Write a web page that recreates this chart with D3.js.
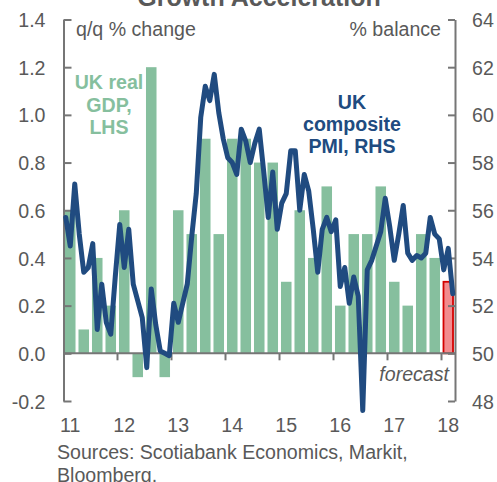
<!DOCTYPE html>
<html>
<head>
<meta charset="utf-8">
<script src="https://cdn.jsdelivr.net/npm/d3@7"></script>
<style>
  html, body { margin: 0; padding: 0; background: #fff; }
  svg { display: block; }
  text { font-family: Arial, "Liberation Sans", sans-serif; }
</style>
</head>
<body>
<svg id="chart" width="497" height="482"></svg>
<script>
// ---- data ----
const quarters = [
  "2011Q1","2011Q2","2011Q3","2011Q4",
  "2012Q1","2012Q2","2012Q3","2012Q4",
  "2013Q1","2013Q2","2013Q3","2013Q4",
  "2014Q1","2014Q2","2014Q3","2014Q4",
  "2015Q1","2015Q2","2015Q3","2015Q4",
  "2016Q1","2016Q2","2016Q3","2016Q4",
  "2017Q1","2017Q2","2017Q3","2017Q4",
  "2018Q1"
];
const gdp = [
  0.6, 0.1, 0.4, 0.2,
  0.6, -0.1, 1.2, -0.1,
  0.6, 0.5, 0.9, 0.5,
  0.9, 0.9, 0.8, 0.8,
  0.3, 0.6, 0.4, 0.7,
  0.2, 0.5, 0.5, 0.7,
  0.3, 0.2, 0.5, 0.4,
  0.3
];
const forecastFlags = [
  0,0,0,0, 0,0,0,0, 0,0,0,0, 0,0,0,0, 0,0,0,0, 0,0,0,0, 0,0,0,0, 1
];
// monthly composite PMI, Jan 2011 .. Mar 2018
const pmi = [
  55.7, 54.5, 57.1, 55.0, 53.4, 53.6, 54.6, 51.0, 52.9, 51.3, 50.8, 53.2,
  55.4, 53.6, 55.2, 52.9, 52.2, 51.5, 49.4, 52.7, 51.2, 50.1, 50.0, 49.9,
  52.1, 51.3, 52.1, 52.9, 54.9, 56.7, 59.9, 61.2, 60.6, 61.7, 60.1, 59.0,
  58.2, 58.0, 57.5, 59.4, 58.9, 58.0, 58.8, 59.4, 57.6, 55.7, 57.6, 55.2,
  56.3, 56.7, 58.5, 58.5, 56.0, 57.5, 56.8, 55.2, 53.4, 55.2, 55.7, 55.1,
  55.6, 52.8, 53.6, 52.1, 53.2, 52.4, 47.6, 53.5, 53.9, 54.5, 55.1, 56.5,
  55.3, 53.9, 55.0, 56.2, 54.2, 53.9, 54.1, 54.0, 54.2, 55.7, 55.0, 54.8,
  53.5, 54.4, 52.5
];
const leftTicks = [-0.2, 0.0, 0.2, 0.4, 0.6, 0.8, 1.0, 1.2, 1.4];
const rightTicks = [48, 50, 52, 54, 56, 58, 60, 62, 64];
const yearLabels = ["11","12","13","14","15","16","17","18"];

// ---- layout ----
const svg = d3.select("#chart");
const L = 63.5, R = 455, T = 19.5, B = 401;
const textCol = "#595959", axisCol = "#767676";
const fontSize = 19.6;
const fmt1 = d => d3.format(".1f")(d).replace("\u2212", "-");

const x = d3.scaleBand().domain(quarters).range([L, R]).paddingInner(0.22).paddingOuter(0.11);
const step = x.step();
const xm = d3.scaleLinear().domain([0, quarters.length * 3]).range([L, R]);
const yL = d3.scaleLinear().domain([-0.2, 1.4]).range([B, T]);
const yR = d3.scaleLinear().domain([48, 64]).range([B, T]);

// bars
svg.append("g").selectAll("rect")
  .data(quarters.map((q, i) => ({q, v: gdp[i], f: forecastFlags[i]})))
  .join("rect")
  .attr("x", d => x(d.q) + (d.f ? 0.5 : 0))
  .attr("width", d => x.bandwidth() - (d.f ? 1 : 0))
  .attr("y", d => yL(Math.max(0, d.v)))
  .attr("height", d => Math.abs(yL(d.v) - yL(0)))
  .attr("fill", d => d.f ? "#f28b8e" : "#86bf9e")
  .attr("stroke", d => d.f ? "#d40000" : "none")
  .attr("stroke-width", d => d.f ? 1.8 : 0);

// left axis
const gl = svg.append("g").attr("transform", `translate(${L},0)`)
  .call(d3.axisLeft(yL).tickValues(leftTicks).tickFormat(fmt1)
    .tickSizeInner(-8).tickSizeOuter(0).tickPadding(18));
// right axis
const gr = svg.append("g").attr("transform", `translate(${R},0)`)
  .call(d3.axisRight(yR).tickValues(rightTicks).tickFormat(d3.format("d"))
    .tickSizeInner(-7).tickSizeOuter(0).tickPadding(17));
[gl, gr].forEach(g => {
  g.select(".domain").attr("stroke", axisCol).attr("stroke-width", 2);
  g.selectAll(".tick line").attr("stroke", axisCol).attr("stroke-width", 2);
  g.selectAll(".tick text").attr("fill", textCol).attr("font-size", fontSize)
    .attr("font-family", "Arial, 'Liberation Sans', sans-serif").attr("dy", "0.36em");
});

// x axis line at zero, with year-boundary ticks
const yearStarts = quarters.filter(q => q.endsWith("Q1")).slice(1);
const gx = svg.append("g").attr("transform", `translate(0,${yL(0)})`)
  .call(d3.axisBottom(x).tickValues(yearStarts).tickFormat("").tickSizeInner(7).tickSizeOuter(0)
    .offset(0));
gx.select(".domain").attr("stroke", axisCol).attr("stroke-width", 2);
gx.selectAll(".tick").attr("transform", d => `translate(${x(d) - x.paddingInner() * step / 2},0)`);
gx.selectAll(".tick line").attr("stroke", axisCol).attr("stroke-width", 2);

// year labels below plot
const q1s = quarters.filter(q => q.endsWith("Q1"));
const gxl = svg.append("g").attr("transform", `translate(0,${B})`)
  .call(d3.axisBottom(x).tickValues(q1s).tickFormat((d, i) => yearLabels[i]).tickSize(0).tickPadding(17));
gxl.select(".domain").remove();
gxl.selectAll(".tick text").attr("fill", textCol).attr("font-size", fontSize)
  .attr("font-family", "Arial, 'Liberation Sans', sans-serif");

// PMI line
const line = d3.line().x((d, i) => xm(i + 0.5)).y(d => yR(d));
svg.append("path").datum(pmi)
  .attr("d", line)
  .attr("fill", "none")
  .attr("stroke", "#204b80")
  .attr("stroke-width", 5)
  .attr("stroke-linejoin", "round")
  .attr("stroke-linecap", "round");

// texts
svg.append("text").attr("x", 259).attr("y", 6).attr("text-anchor", "middle")
  .attr("font-size", 25).attr("font-weight", "bold").attr("fill", textCol)
  .text("Growth Acceleration");
svg.append("text").attr("x", 76).attr("y", 36).attr("font-size", fontSize).attr("fill", textCol)
  .text("q/q % change");
svg.append("text").attr("x", 441).attr("y", 36).attr("text-anchor", "end").attr("font-size", fontSize).attr("fill", textCol)
  .text("% balance");

const gdpLab = svg.append("text").attr("text-anchor", "middle").attr("font-size", fontSize)
  .attr("font-weight", "bold").attr("fill", "#86bf9e");
["UK real", "GDP,", "LHS"].forEach((t, i) =>
  gdpLab.append("tspan").attr("x", 109).attr("y", 89 + i * 22.5).text(t));

const pmiLab = svg.append("text").attr("text-anchor", "middle").attr("font-size", fontSize)
  .attr("font-weight", "bold").attr("fill", "#204b80");
["UK", "composite", "PMI, RHS"].forEach((t, i) =>
  pmiLab.append("tspan").attr("x", 352).attr("y", 109 + i * 22).text(t));

svg.append("text").attr("x", 449).attr("y", 381).attr("text-anchor", "end")
  .attr("font-size", fontSize).attr("font-style", "italic").attr("fill", textCol)
  .text("forecast");

const src = svg.append("text").attr("font-size", fontSize).attr("fill", textCol);
["Sources: Scotiabank Economics, Markit,", "Bloomberg."].forEach((t, i) =>
  src.append("tspan").attr("x", 57).attr("y", 459 + i * 23).text(t));
</script>
</body>
</html>
